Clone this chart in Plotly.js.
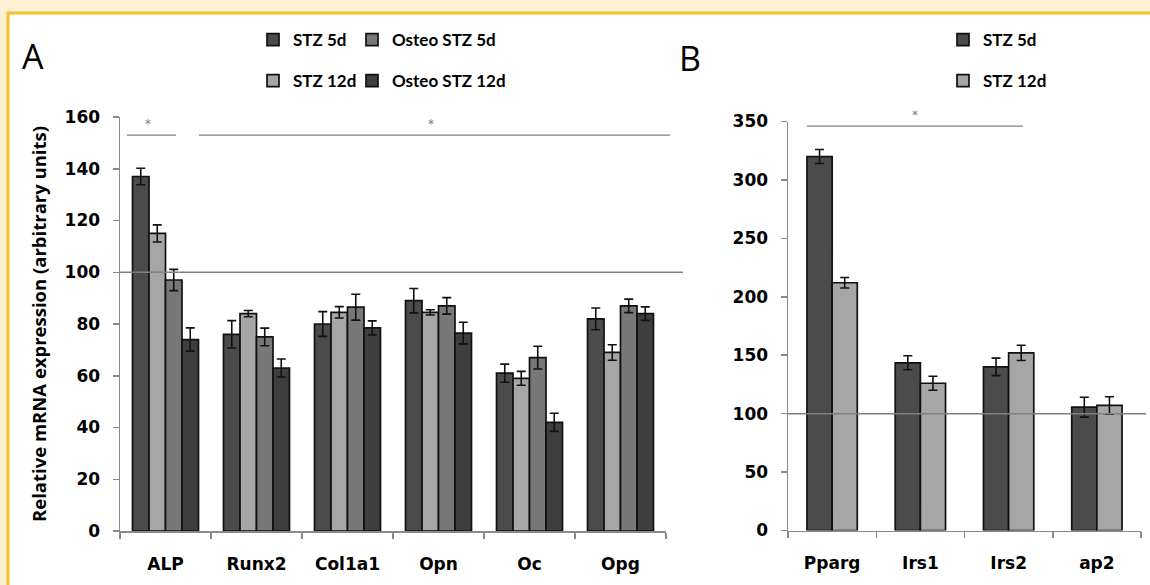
<!DOCTYPE html>
<html>
<head>
<meta charset="utf-8">
<script src="https://cdn.plot.ly/plotly-3.0.1.min.js"></script>
<style>html,body{margin:0;padding:0;background:#fdf0d3;}#chart{width:1150px;height:585px;}</style>
</head>
<body>
<div id="chart"></div>
<script>
// ---- Panel A data ----
const catsA = ['ALP', 'Runx2', 'Col1a1', 'Opn', 'Oc', 'Opg'];
const stz5dA = [137, 76, 80, 89, 61, 82];
const stz5dAErr = [3.2, 5.3, 4.8, 4.7, 3.5, 4.2];
const stz12dA = [115, 84, 84.5, 84.5, 59, 69];
const stz12dAErr = [3.3, 1.2, 2.2, 1.0, 2.7, 3.0];
const osteo5dA = [97, 75, 86.5, 87, 67, 87];
const osteo5dAErr = [4.1, 3.4, 5.0, 3.2, 4.4, 2.6];
const osteo12dA = [74, 63, 78.5, 76.5, 42, 84];
const osteo12dAErr = [4.5, 3.5, 2.7, 4.2, 3.5, 2.6];
const yTicksA = [0, 20, 40, 60, 80, 100, 120, 140, 160];

// ---- Panel B data ----
const catsB = ['Pparg', 'Irs1', 'Irs2', 'ap2'];
const stz5dB = [320, 143.5, 140, 105.5];
const stz5dBErr = [6, 6, 7.5, 8.5];
const stz12dB = [212, 126, 152, 107];
const stz12dBErr = [4.5, 6, 6.5, 7.5];
const yTicksB = [0, 50, 100, 150, 200, 250, 300, 350];

// reference & significance levels
const refLevel = 100;
const sigLevelA = 153;
const sigLevelB = 346;

const W = 1150, H = 585;
const px = v => v / W;
const py = v => 1 - v / H;

const colors = {
  stz5d: '#4b4b4b',
  stz12d: '#a6a6a6',
  osteo5d: '#787878',
  osteo12d: '#3e3e3e'
};
const outline = {color: '#111111', width: 1.7};
const errStyle = arr => ({type: 'data', array: arr, visible: true, color: '#111111', thickness: 1.6, width: 4.5});

const bWidth = 0.285;

const traces = [
  {type: 'bar', name: 'STZ 5d', x: catsA, y: stz5dA, error_y: errStyle(stz5dAErr),
   marker: {color: colors.stz5d, line: outline}, xaxis: 'x', yaxis: 'y', legend: 'legend', legendgroup: 'a1'},
  {type: 'bar', name: 'STZ 12d', x: catsA, y: stz12dA, error_y: errStyle(stz12dAErr),
   marker: {color: colors.stz12d, line: outline}, xaxis: 'x', yaxis: 'y', legend: 'legend', legendgroup: 'a2'},
  {type: 'bar', name: 'Osteo STZ 5d', x: catsA, y: osteo5dA, error_y: errStyle(osteo5dAErr),
   marker: {color: colors.osteo5d, line: outline}, xaxis: 'x', yaxis: 'y', legend: 'legend2', legendgroup: 'a3'},
  {type: 'bar', name: 'Osteo STZ 12d', x: catsA, y: osteo12dA, error_y: errStyle(osteo12dAErr),
   marker: {color: colors.osteo12d, line: outline}, xaxis: 'x', yaxis: 'y', legend: 'legend2', legendgroup: 'a4'},
  {type: 'bar', name: 'STZ 5d', x: catsB, y: stz5dB, error_y: errStyle(stz5dBErr),
   width: bWidth, offset: -bWidth,
   marker: {color: colors.stz5d, line: outline}, xaxis: 'x2', yaxis: 'y2', legend: 'legend3', legendgroup: 'b1'},
  {type: 'bar', name: 'STZ 12d', x: catsB, y: stz12dB, error_y: errStyle(stz12dBErr),
   width: bWidth, offset: 0,
   marker: {color: colors.stz12d, line: outline}, xaxis: 'x2', yaxis: 'y2', legend: 'legend3', legendgroup: 'b2'}
];

const tickFont = {family: '"DejaVu Sans", Verdana, sans-serif', size: 17, color: '#000', weight: 'bold'};
const axisCommon = {
  showgrid: false, zeroline: false, showline: true, linecolor: '#8a8a8a', linewidth: 1.5,
  ticks: 'outside', ticklen: 6, tickcolor: '#8a8a8a', tickwidth: 1.5, tickfont: tickFont, fixedrange: true
};

const legendCommon = {
  orientation: 'v', bgcolor: 'rgba(0,0,0,0)', borderwidth: 0,
  font: {family: 'Lato, "Open Sans", sans-serif', size: 17, color: '#000', weight: 'bold'},
  tracegroupgap: 16, xanchor: 'left', yanchor: 'top', itemclick: false, itemdoubleclick: false
};

const gray = '#808080';
const starFont = {family: '"DejaVu Sans", sans-serif', size: 12, color: gray};
const layout = {
  width: W, height: H,
  margin: {l: 0, r: 0, t: 0, b: 0},
  paper_bgcolor: '#fdf0d3',
  plot_bgcolor: 'rgba(0,0,0,0)',
  barmode: 'group', bargap: 0.275, bargroupgap: 0,
  showlegend: true,
  xaxis: Object.assign({}, axisCommon, {
    domain: [px(120), px(666)], anchor: 'y', type: 'category', tickson: 'boundaries',
    ticklabelstandoff: 17
  }),
  yaxis: Object.assign({}, axisCommon, {
    domain: [py(531), py(117)], anchor: 'x', range: [0, 160], tickvals: yTicksA,
    ticklabelstandoff: 9,
    title: {text: 'Relative mRNA expression (arbitrary units)', standoff: 13,
            font: {family: '"Open Sans", sans-serif', size: 18.5, color: '#000', weight: 'bold'}}
  }),
  xaxis2: Object.assign({}, axisCommon, {
    domain: [px(788), px(1141)], anchor: 'y2', type: 'category', tickson: 'boundaries',
    ticklabelstandoff: 17
  }),
  yaxis2: Object.assign({}, axisCommon, {
    domain: [py(530.5), py(121.5)], anchor: 'x2', range: [0, 350], tickvals: yTicksB,
    ticklabelstandoff: 9
  }),
  legend: Object.assign({}, legendCommon, {x: px(253), y: py(22)}),
  legend2: Object.assign({}, legendCommon, {x: px(352), y: py(22)}),
  legend3: Object.assign({}, legendCommon, {x: px(943), y: py(22)}),
  shapes: [
    // white panel with gold frame
    {type: 'rect', xref: 'paper', yref: 'paper', x0: px(8), x1: 1.05, y0: -0.05, y1: py(13),
     fillcolor: '#ffffff', line: {color: '#f4c22b', width: 3}, layer: 'below'},
    // reference line at 100 (panel A)
    {type: 'line', xref: 'paper', yref: 'y', x0: px(120), x1: px(683), y0: refLevel, y1: refLevel,
     line: {color: gray, width: 1.5}},
    // reference line at 100 (panel B)
    {type: 'line', xref: 'paper', yref: 'y2', x0: px(788), x1: px(1146), y0: refLevel, y1: refLevel,
     line: {color: gray, width: 1.5}},
    // significance lines
    {type: 'line', xref: 'paper', yref: 'y', x0: px(127), x1: px(176), y0: sigLevelA, y1: sigLevelA,
     line: {color: gray, width: 1.2}},
    {type: 'line', xref: 'paper', yref: 'y', x0: px(199), x1: px(670), y0: sigLevelA, y1: sigLevelA,
     line: {color: gray, width: 1.2}},
    {type: 'line', xref: 'paper', yref: 'y2', x0: px(807), x1: px(1023), y0: sigLevelB, y1: sigLevelB,
     line: {color: gray, width: 1.2}}
  ],
  annotations: [
    {text: 'A', xref: 'paper', yref: 'paper', x: px(33), y: py(56), xanchor: 'center', yanchor: 'middle',
     showarrow: false, font: {family: '"Open Sans", sans-serif', size: 34, color: '#000'}},
    {text: 'B', xref: 'paper', yref: 'paper', x: px(690), y: py(58), xanchor: 'center', yanchor: 'middle',
     showarrow: false, font: {family: '"Open Sans", sans-serif', size: 34, color: '#000'}},
    {text: '*', xref: 'paper', yref: 'y', x: px(148), y: sigLevelA, xanchor: 'center', yanchor: 'bottom', yshift: 2,
     showarrow: false, font: starFont},
    {text: '*', xref: 'paper', yref: 'y', x: px(431), y: sigLevelA, xanchor: 'center', yanchor: 'bottom', yshift: 2,
     showarrow: false, font: starFont},
    {text: '*', xref: 'paper', yref: 'y2', x: px(915), y: sigLevelB, xanchor: 'center', yanchor: 'bottom', yshift: 2,
     showarrow: false, font: starFont}
  ]
};

Plotly.newPlot('chart', traces, layout, {displayModeBar: false, staticPlot: true});
</script>
</body>
</html>
